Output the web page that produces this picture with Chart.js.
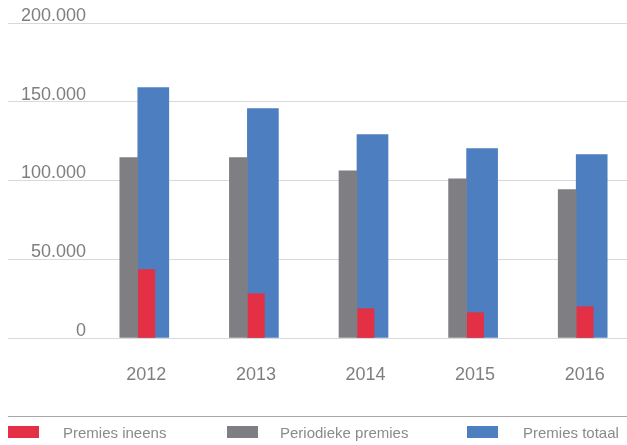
<!DOCTYPE html>
<html>
<head>
<meta charset="utf-8">
<script src="https://cdn.jsdelivr.net/npm/chart.js@4/dist/chart.umd.min.js"></script>
<style>
  html, body { margin: 0; padding: 0; background: #ffffff; overflow: hidden; }
  #wrap { position: relative; width: 627px; height: 445px; overflow: hidden; }
  #c { position: absolute; left: 0; top: 0; }
  .legline { position: absolute; left: 8px; top: 416px; width: 619px; height: 1px; background: #a6a6a6; }
  .box { position: absolute; top: 426px; width: 31px; height: 12px; }
  .lt { position: absolute; top: 425px; font-family: "Liberation Sans", Arial, sans-serif; font-size: 15px; line-height: 15px; color: #8a8a8a; white-space: nowrap; }
</style>
</head>
<body>
<div id="wrap">
  <canvas id="c" width="631" height="445" style="width:631px;height:445px"></canvas>
  <div class="legline"></div>
  <div class="box" style="left:8px;background:#e33045"></div>
  <div class="lt" style="left:63px">Premies ineens</div>
  <div class="box" style="left:227px;background:#7f7e83"></div>
  <div class="lt" style="left:280px">Periodieke premies</div>
  <div class="box" style="left:467px;background:#4d7ebf"></div>
  <div class="lt" style="left:523px">Premies totaal</div>
</div>
<script>
const categories = ["2012", "2013", "2014", "2015", "2016"];
const premiesIneens = [43400, 28100, 18600, 16100, 19900];
const periodiekePremies = [114500, 114500, 106200, 101100, 94200];
const premiesTotaal = [159000, 145600, 129100, 120200, 116400];
const yTicks = [0, 50000, 100000, 150000, 200000];

function fmt(v) {
  return String(v).replace(/\B(?=(\d{3})+(?!\d))/g, ".");
}

const FONT = "'Liberation Sans', Arial, sans-serif";

new Chart(document.getElementById("c"), {
  type: "bar",
  data: {
    labels: categories,
    datasets: [
      { label: "Periodieke premies", data: periodiekePremies, backgroundColor: "#7f7e83",
        stack: "g", order: 0, barThickness: 18 },
      { label: "Premies ineens", data: premiesIneens, backgroundColor: "#e33045",
        stack: "b", order: 1, barThickness: 17 },
      { label: "Premies totaal", data: premiesTotaal, backgroundColor: "#4d7ebf",
        stack: "b", order: 2, barThickness: 31 }
    ]
  },
  options: {
    responsive: false,
    animation: false,
    layout: { padding: { left: 0, right: 0, top: 23, bottom: 0 } },
    plugins: { legend: { display: false }, tooltip: { enabled: false } },
    scales: {
      x: {
        grid: { display: false },
        border: { display: false },
        ticks: {
          color: "#7f7f7f",
          font: { family: FONT, size: 18 },
          padding: 18,
          labelOffset: 8.5,
          maxRotation: 0
        },
        afterFit: (s) => { s.height = 107; }
      },
      y: {
        stacked: false,
        min: 0,
        max: 200000,
        afterBuildTicks: (s) => { s.ticks = yTicks.map(v => ({ value: v })); },
        grid: { color: "#d9d9d9", lineWidth: 1, tickLength: 75, drawTicks: true },
        border: { display: false },
        ticks: {
          color: "#7f7f7f",
          font: { family: FONT, size: 18 },
          mirror: true,
          crossAlign: "far",
          padding: -62,
          labelOffset: -7,
          callback: (v) => fmt(v)
        },
        afterFit: (s) => { s.width = 83; }
      }
    }
  }
});
</script>
</body>
</html>
